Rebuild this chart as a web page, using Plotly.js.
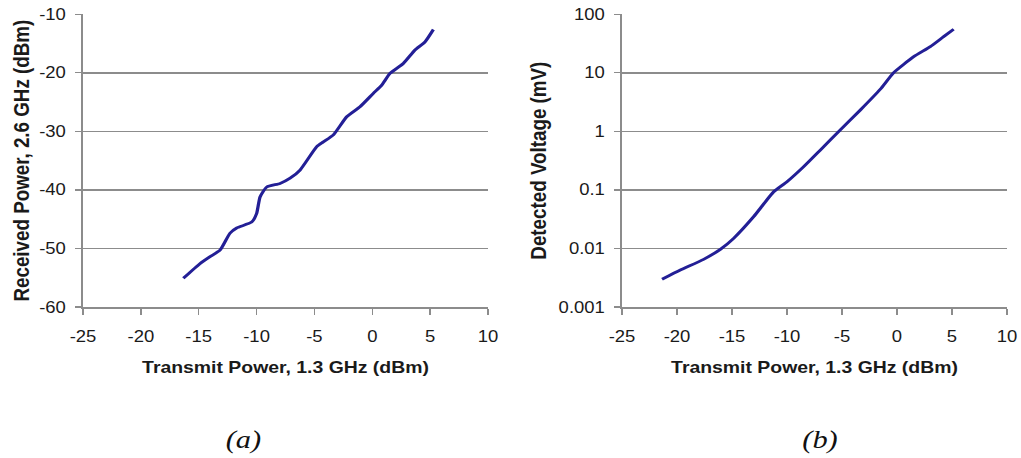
<!DOCTYPE html>
<html>
<head>
<meta charset="utf-8">
<script src="https://cdn.plot.ly/plotly-3.0.1.min.js"></script>
<style>
  html, body { margin: 0; padding: 0; background: #fff; overflow: hidden; }
  /* the figure is laid out narrower and widened horizontally */
  #chart { width: 873px; height: 458px; transform: scaleX(1.16953); transform-origin: 0 0; }
</style>
</head>
<body>
<div id="chart"></div>
<script>
// (a) received power at 2.6 GHz vs transmit power at 1.3 GHz
const txPowerA = [-16.33, -14.9, -14.02, -13.16, -12.3, -11.72, -10.42, -9.99, -9.7, -9.12,
                  -7.97, -7.1, -6.24, -4.8, -4.23, -3.36, -2.21, -1.06, 0.09, 0.82,
                  1.53, 2.68, 3.69, 4.56, 5.28];
const rxPowerA = [-55.1, -52.6, -51.4, -50.3, -47.4, -46.5, -45.5, -44.0, -41.2, -39.5,
                  -38.9, -38.0, -36.6, -32.6, -31.8, -30.6, -27.5, -25.8, -23.5, -22.1,
                  -20.1, -18.4, -16.1, -14.7, -12.6];

// (b) detected voltage (mV) vs transmit power at 1.3 GHz
const txPowerB = [-21.36, -19.7, -17.58, -16.06, -14.85, -13.03, -11.21, -10.0, -8.48, -6.97,
                  -5.15, -3.33, -1.52, -0.3, 1.52, 3.03, 4.24, 5.15];
const voltageB = [0.00297, 0.00428, 0.00652, 0.00966, 0.0149, 0.0349, 0.093, 0.138, 0.25, 0.48,
                  1.06, 2.32, 5.24, 10.1, 18.9, 28, 41.5, 55.5];

const xTicks = [-25, -20, -15, -10, -5, 0, 5, 10];
const xTickText = ['-25', '-20', '-15', '-10', '-5', '0', '5', '10'];
const yTicksA = [-60, -50, -40, -30, -20, -10];
const yTickTextA = ['-60', '-50', '-40', '-30', '-20', '-10'];
const yTicksB = [0.001, 0.01, 0.1, 1, 10, 100];
const yTickTextB = ['0.001', '0.01', '0.1', '1', '10', '100'];

const xTitle = 'Transmit Power, 1.3 GHz (dBm)';
const yTitleA = 'Received Power, 2.6 GHz (dBm)';
const yTitleB = 'Detected Voltage (mV)';
const panelLabels = ['(a)', '(b)'];

const FIG_W = 1021;        // displayed width
const H = 458;
const SANS = 'Liberation Sans, Arial, Helvetica, sans-serif';
const lineStyle = { color: '#231f96', width: 2.8, shape: 'spline', smoothing: 0.5 };
const tickFont = { family: SANS, size: 15.8, color: '#1a1a1a' };
const xTitleFont = { family: SANS, size: 16.6, color: '#1a1a1a', weight: 'bold' };
const yTitleFont = { family: SANS, size: 18.8, color: '#1a1a1a', weight: 'bold' };
const axisGrey = '#8c8c8c';

const traces = [
  { x: txPowerA, y: rxPowerA, xaxis: 'x', yaxis: 'y', mode: 'lines', line: lineStyle, hoverinfo: 'skip' },
  { x: txPowerB, y: voltageB, xaxis: 'x2', yaxis: 'y2', mode: 'lines', line: lineStyle, hoverinfo: 'skip' }
];

// positions given in displayed pixels, converted to paper fractions
const px = v => v / FIG_W;
const py = v => 1 - v / H;

function xAxis(domain, anchor) {
  return {
    domain: domain, anchor: anchor, range: [-25, 10],
    tickvals: xTicks, ticktext: xTickText,
    ticks: 'outside', ticklen: 6, tickcolor: axisGrey, tickwidth: 1.2, ticklabelstandoff: 9,
    showline: true, linecolor: axisGrey, linewidth: 1.5,
    showgrid: false, zeroline: false, tickfont: tickFont, automargin: false,
    title: { text: xTitle, font: xTitleFont, standoff: 17 }
  };
}

function yAxis(anchor, extra) {
  return Object.assign({
    domain: [py(307), py(14.3)], anchor: anchor,
    ticks: 'outside', ticklen: 5, tickcolor: axisGrey, tickwidth: 1.2, ticklabelstandoff: 5,
    showline: true, linecolor: axisGrey, linewidth: 1.5,
    showgrid: true, gridcolor: axisGrey, gridwidth: 1.4, zeroline: false,
    tickfont: tickFont, automargin: false
  }, extra);
}

const layout = {
  width: 873, height: H,
  margin: { l: 0, r: 0, t: 0, b: 0 },
  paper_bgcolor: '#fff', plot_bgcolor: '#fff',
  showlegend: false,
  xaxis: xAxis([px(83), px(488)], 'y'),
  xaxis2: xAxis([px(622), px(1007)], 'y2'),
  yaxis: yAxis('x', {
    range: [-60, -10], tickvals: yTicksA, ticktext: yTickTextA,
    title: { text: yTitleA, font: yTitleFont, standoff: 3 }
  }),
  yaxis2: yAxis('x2', {
    type: 'log', range: [-3, 2], tickvals: yTicksB, ticktext: yTickTextB,
    title: { text: yTitleB, font: yTitleFont, standoff: 5 }
  }),
  annotations: panelLabels.map((t, i) => ({
    text: t, x: px([243, 820][i]), y: py(439), xref: 'paper', yref: 'paper',
    xanchor: 'center', yanchor: 'middle', showarrow: false,
    font: { family: 'Liberation Serif, Times New Roman, serif', size: 26, color: '#111', style: 'italic' }
  }))
};

Plotly.newPlot('chart', traces, layout, { staticPlot: true, displayModeBar: false });
</script>
</body>
</html>
